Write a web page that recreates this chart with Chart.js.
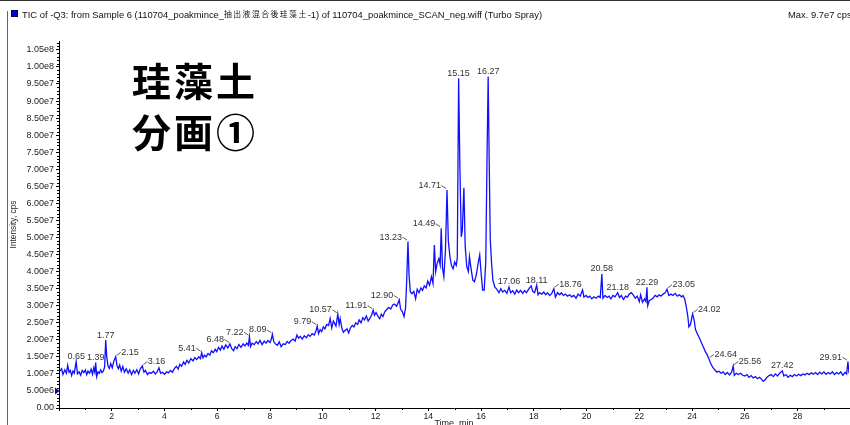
<!DOCTYPE html>
<html>
<head>
<meta charset="utf-8">
<script src="https://cdn.jsdelivr.net/npm/chart.js@4.4.1/dist/chart.umd.min.js"></script>
<style>
  html, body { margin: 0; padding: 0; background: #fff; width: 850px; height: 425px; overflow: hidden; }
  #wrap { position: absolute; left: 0; top: 0; width: 850px; height: 431px; }
  .rule { position: absolute; left: 0; top: 0; width: 850px; height: 1px; background: #333; }
  .frame { position: absolute; left: 7px; top: 11px; width: 1px; height: 414px; background: #666; }
  .hdr { position: absolute; top: 9px; font: 9.4px "Liberation Sans", Arial, sans-serif; color: #111; white-space: nowrap; line-height: 11px; }
  .hdr .cjk { font: 7.8px "Noto Sans CJK JP", sans-serif; letter-spacing: 1.5px; position: relative; top: -1px; }
  .swatch { position: absolute; left: 11px; top: 10px; width: 5px; height: 5px; background: #0000e0; border: 1px solid #000050; }
  .big { position: absolute; left: 132px; top: 54px; font: bold 39px "Noto Sans CJK JP", sans-serif; line-height: 51px; letter-spacing: 3px; color: #000; }
</style>
</head>
<body>
<div id="wrap"><canvas id="tic"></canvas></div>
<div class="rule"></div>
<div class="frame"></div>
<div class="swatch"></div>
<div class="hdr" style="left:22px">TIC of -Q3: from Sample 6 (110704_poakmince_<span class="cjk">抽出液混合後珪藻土</span>-1) of 110704_poakmince_SCAN_neg.wiff (Turbo Spray)</div>
<div class="hdr" style="left:788px">Max. 9.7e7 cps</div>
<div class="big">珪藻土<br>分画①</div>

<script>
// retention time (min)
const timeMin = [
  0.03, 0.10, 0.15, 0.22, 0.28, 0.33, 0.38, 0.43, 0.48, 0.53,
  0.58, 0.65, 0.70, 0.76, 0.82, 0.88, 0.94, 1.00, 1.05, 1.10,
  1.16, 1.22, 1.27, 1.32, 1.36, 1.39, 1.43, 1.48, 1.53, 1.58,
  1.63, 1.68, 1.73, 1.77, 1.81, 1.86, 1.91, 1.96, 2.02, 2.08,
  2.15, 2.20, 2.25, 2.30, 2.36, 2.42, 2.48, 2.55, 2.62, 2.68,
  2.75, 2.82, 2.88, 2.95, 3.02, 3.08, 3.16, 3.22, 3.28, 3.35,
  3.42, 3.50, 3.58, 3.65, 3.72, 3.79, 3.85, 3.92, 4.00, 4.08,
  4.15, 4.22, 4.30, 4.38, 4.45, 4.52, 4.58, 4.65, 4.72, 4.78,
  4.85, 4.92, 5.00, 5.08, 5.15, 5.22, 5.30, 5.36, 5.41, 5.46,
  5.52, 5.58, 5.65, 5.72, 5.78, 5.85, 5.92, 5.98, 6.05, 6.12,
  6.18, 6.25, 6.32, 6.40, 6.48, 6.55, 6.62, 6.68, 6.75, 6.82,
  6.90, 6.98, 7.05, 7.12, 7.18, 7.22, 7.26, 7.32, 7.40, 7.48,
  7.55, 7.62, 7.70, 7.78, 7.85, 7.92, 8.00, 8.05, 8.09, 8.14,
  8.20, 8.28, 8.35, 8.42, 8.50, 8.58, 8.65, 8.72, 8.80, 8.88,
  8.95, 9.02, 9.08, 9.15, 9.22, 9.30, 9.38, 9.45, 9.52, 9.60,
  9.68, 9.75, 9.79, 9.84, 9.90, 9.96, 10.02, 10.08, 10.15, 10.22,
  10.28, 10.34, 10.40, 10.45, 10.50, 10.57, 10.62, 10.66, 10.72, 10.78,
  10.85, 10.92, 10.98, 11.05, 11.12, 11.18, 11.25, 11.32, 11.38, 11.45,
  11.52, 11.58, 11.65, 11.72, 11.78, 11.85, 11.91, 11.96, 12.02, 12.10,
  12.16, 12.22, 12.28, 12.35, 12.42, 12.50, 12.58, 12.65, 12.72, 12.80,
  12.85, 12.90, 12.95, 13.02, 13.08, 13.14, 13.18, 13.23, 13.27, 13.32,
  13.38, 13.45, 13.52, 13.58, 13.65, 13.72, 13.78, 13.85, 13.92, 13.98,
  14.05, 14.12, 14.18, 14.23, 14.28, 14.33, 14.40, 14.45, 14.49, 14.54,
  14.59, 14.65, 14.71, 14.76, 14.82, 14.88, 14.94, 15.00, 15.06, 15.10,
  15.15, 15.20, 15.25, 15.29, 15.35, 15.40, 15.46, 15.52, 15.56, 15.63,
  15.69, 15.75, 15.82, 15.89, 15.95, 16.00, 16.06, 16.12, 16.18, 16.23,
  16.27, 16.31, 16.35, 16.40, 16.45, 16.52, 16.60, 16.68, 16.75, 16.82,
  16.90, 16.98, 17.06, 17.12, 17.20, 17.28, 17.35, 17.42, 17.50, 17.58,
  17.65, 17.72, 17.82, 17.90, 17.96, 18.03, 18.11, 18.16, 18.22, 18.30,
  18.38, 18.45, 18.52, 18.60, 18.68, 18.76, 18.82, 18.90, 18.98, 19.05,
  19.12, 19.20, 19.28, 19.36, 19.44, 19.52, 19.60, 19.68, 19.76, 19.85,
  19.90, 19.98, 20.05, 20.12, 20.20, 20.28, 20.36, 20.45, 20.52, 20.58,
  20.62, 20.70, 20.78, 20.85, 20.92, 21.00, 21.08, 21.18, 21.25, 21.32,
  21.40, 21.48, 21.55, 21.62, 21.70, 21.78, 21.85, 21.92, 22.00, 22.05,
  22.12, 22.20, 22.25, 22.29, 22.32, 22.38, 22.45, 22.52, 22.60, 22.68,
  22.75, 22.82, 22.90, 22.98, 23.05, 23.12, 23.20, 23.28, 23.36, 23.44,
  23.52, 23.60, 23.66, 23.72, 23.78, 23.84, 23.88, 23.94, 24.02, 24.08,
  24.13, 24.20, 24.28, 24.35, 24.42, 24.50, 24.58, 24.64, 24.70, 24.78,
  24.86, 24.94, 25.02, 25.10, 25.18, 25.26, 25.34, 25.42, 25.50, 25.56,
  25.60, 25.68, 25.76, 25.84, 25.92, 26.00, 26.08, 26.16, 26.24, 26.32,
  26.40, 26.48, 26.56, 26.64, 26.70, 26.76, 26.84, 26.92, 27.00, 27.08,
  27.16, 27.24, 27.32, 27.42, 27.48, 27.56, 27.64, 27.72, 27.80, 27.88,
  27.96, 28.04, 28.12, 28.20, 28.28, 28.36, 28.44, 28.52, 28.60, 28.68,
  28.76, 28.84, 28.92, 29.00, 29.08, 29.16, 29.24, 29.32, 29.40, 29.48,
  29.56, 29.64, 29.72, 29.80, 29.86, 29.91, 29.95
];

// TIC intensity, in units of 1e7 cps
const intensity = [
  1.08, 1.15, 0.98, 1.12, 1.02, 1.25, 1.05, 1.10, 0.95, 1.08,
  1.02, 1.36, 1.00, 1.06, 0.96, 1.10, 1.04, 1.12, 0.98, 1.08,
  1.02, 1.14, 0.99, 1.18, 1.05, 1.33, 0.92, 1.06, 1.02, 1.12,
  1.04, 1.08, 1.20, 1.99, 1.50, 1.22, 1.16, 1.30, 1.18, 1.38,
  1.50, 1.24, 1.15, 1.26, 1.08, 1.22, 1.05, 1.15, 1.02, 1.12,
  0.98, 1.10, 1.02, 1.12, 1.00, 1.15, 1.23, 1.05, 1.10, 0.98,
  1.04, 1.02, 1.08, 1.00, 1.06, 1.18, 1.02, 1.05, 0.99, 1.06,
  1.03, 1.10, 1.05, 1.16, 1.22, 1.14, 1.28, 1.22, 1.35, 1.28,
  1.40, 1.32, 1.45, 1.38, 1.48, 1.42, 1.50, 1.45, 1.62, 1.47,
  1.55, 1.50, 1.60, 1.55, 1.68, 1.62, 1.72, 1.65, 1.78, 1.70,
  1.82, 1.72, 1.85, 1.76, 1.88, 1.74, 1.68, 1.80, 1.74, 1.86,
  1.78, 1.88, 1.82, 1.90, 1.84, 2.09, 1.80, 1.90, 1.86, 1.95,
  1.88, 1.98, 1.86, 1.96, 1.90, 1.98, 1.92, 2.02, 2.16, 1.95,
  1.88, 1.84, 1.94, 1.80, 1.88, 1.86, 1.95, 1.90, 1.98, 2.02,
  1.96, 2.14, 2.05, 2.10, 2.02, 2.12, 2.06, 2.15, 2.10, 2.18,
  2.14, 2.28, 2.40, 2.18, 2.30, 2.24, 2.38, 2.32, 2.45, 2.42,
  2.62, 2.35, 2.55, 2.48, 2.40, 2.75, 2.45, 2.62, 2.35, 2.22,
  2.28, 2.32, 2.20, 2.35, 2.42, 2.38, 2.50, 2.45, 2.58, 2.50,
  2.65, 2.58, 2.70, 2.55, 2.62, 2.72, 2.87, 2.72, 2.80, 2.68,
  2.62, 2.75, 2.68, 2.82, 2.88, 2.95, 2.90, 3.02, 3.05, 2.98,
  3.08, 3.17, 2.90, 2.82, 2.68, 2.95, 3.70, 4.88, 3.90, 3.40,
  3.35, 3.42, 3.20, 3.48, 3.38, 3.52, 3.45, 3.58, 3.52, 3.72,
  3.60, 3.85, 3.65, 4.78, 4.00, 4.22, 4.38, 4.20, 5.27, 4.10,
  3.85, 4.60, 6.39, 4.90, 4.44, 4.18, 4.08, 4.28, 4.18, 4.40,
  9.67, 7.00, 5.02, 5.20, 6.46, 4.73, 4.14, 4.00, 4.44, 4.04,
  3.75, 3.70, 3.90, 4.25, 4.49, 3.98, 3.46, 3.46, 4.30, 7.50,
  9.72, 7.20, 4.93, 4.24, 3.75, 3.55, 3.48, 3.38, 3.50, 3.40,
  3.45, 3.36, 3.55, 3.38, 3.44, 3.34, 3.46, 3.38, 3.45, 3.36,
  3.44, 3.38, 3.50, 3.58, 3.42, 3.38, 3.60, 3.32, 3.38, 3.34,
  3.40, 3.32, 3.38, 3.30, 3.36, 3.50, 3.25, 3.38, 3.32, 3.38,
  3.30, 3.34, 3.28, 3.32, 3.26, 3.30, 3.22, 3.34, 3.28, 3.46,
  3.25, 3.30, 3.24, 3.28, 3.20, 3.26, 3.22, 3.28, 3.24, 3.93,
  3.22, 3.30, 3.24, 3.28, 3.20, 3.30, 3.26, 3.38, 3.24, 3.30,
  3.18, 3.28, 3.25, 3.34, 3.38, 3.30, 3.22, 3.28, 3.12, 3.32,
  3.10, 3.20, 3.12, 3.54, 3.00, 3.15, 3.18, 3.22, 3.30, 3.26,
  3.32, 3.28, 3.34, 3.38, 3.48, 3.30, 3.34, 3.30, 3.36, 3.28,
  3.32, 3.26, 3.30, 3.20, 2.97, 2.68, 2.38, 2.45, 2.76, 2.58,
  2.30, 2.18, 2.05, 1.92, 1.80, 1.66, 1.55, 1.44, 1.32, 1.20,
  1.12, 1.05, 1.08, 1.02, 1.06, 0.98, 1.04, 0.97, 1.05, 1.23,
  0.96, 1.02, 0.98, 1.02, 0.96, 0.94, 0.98, 0.90, 0.95, 0.88,
  0.92, 0.86, 0.90, 0.84, 0.78, 0.82, 0.90, 0.95, 0.98, 0.92,
  1.00, 0.94, 1.02, 1.09, 0.94, 0.98, 0.90, 0.96, 0.92, 0.98,
  0.94, 0.99, 0.95, 1.00, 0.97, 1.02, 0.98, 1.03, 0.99, 1.04,
  0.98, 1.05, 1.00, 1.06, 0.99, 1.04, 1.00, 1.06, 0.98, 1.04,
  1.00, 1.06, 0.96, 1.05, 1.00, 1.36, 1.02
];

// labelled peaks (retention times, min)
const peakTimes = [
  0.65, 1.39, 1.77, 2.15, 3.16, 5.41, 6.48, 7.22, 8.09, 9.79,
  10.57, 11.91, 12.90, 13.23, 14.49, 14.71, 15.15, 16.27, 17.06, 18.11,
  18.76, 20.58, 21.18, 22.29, 23.05, 24.02, 24.64, 25.56, 27.42, 29.91
];

// threshold marker on the intensity axis (1e7 cps)
const thresholdLevel = 0.5;

// which side each peak label sits on (others are centred above)
const labelLeft = [5.41, 6.48, 7.22, 8.09, 9.79, 10.57, 11.91, 12.90, 13.23, 14.49, 14.71, 29.91];
const labelRight = [2.15, 3.16, 18.76, 23.05, 24.02, 24.64, 25.56];

const FONT = '"Liberation Sans", Arial, sans-serif';
Chart.defaults.font.family = FONT;

function nearestIndex(t) {
  let best = 0;
  timeMin.forEach((v, i) => {
    if (Math.abs(v - t) < Math.abs(timeMin[best] - t)) best = i;
  });
  return best;
}

// small minor ticks + threshold arrow
const axisExtras = {
  id: 'axisExtras',
  afterDraw(chart) {
    const { ctx, chartArea: a, scales: { x, y } } = chart;
    ctx.save();
    ctx.strokeStyle = '#000';
    ctx.lineWidth = 1;
    ctx.beginPath();
    for (let i = 1; i / 10 <= y.max; i++) {
      if (i % 5 === 0) continue;
      const py = Math.round(y.getPixelForValue(i / 10)) + 0.5;
      ctx.moveTo(a.left - 2, py);
      ctx.lineTo(a.left, py);
    }
    for (let i = 1; i < x.max; i += 2) {
      const px = Math.round(x.getPixelForValue(i)) + 0.5;
      ctx.moveTo(px, a.bottom);
      ctx.lineTo(px, a.bottom + 2);
    }
    ctx.stroke();

    const ty = y.getPixelForValue(thresholdLevel);
    ctx.fillStyle = '#0a0a9a';
    ctx.beginPath();
    ctx.moveTo(a.left - 4, ty - 3.5);
    ctx.lineTo(a.left - 4, ty + 3.5);
    ctx.lineTo(a.left + 0.5, ty);
    ctx.closePath();
    ctx.fill();
    ctx.restore();
  }
};

// retention time labels over the peaks
const peakLabels = {
  id: 'peakLabels',
  afterDatasetsDraw(chart) {
    const { ctx, scales: { x, y } } = chart;
    ctx.save();
    ctx.font = '9px ' + FONT;
    ctx.fillStyle = '#333';
    ctx.strokeStyle = '#333';
    ctx.lineWidth = 0.8;
    ctx.textBaseline = 'middle';
    peakTimes.forEach(t => {
      const k = nearestIndex(t);
      const px = x.getPixelForValue(timeMin[k]);
      const py = y.getPixelForValue(intensity[k]);
      const txt = t.toFixed(2);
      if (labelLeft.includes(t)) {
        ctx.textAlign = 'right';
        ctx.fillText(txt, px - 6, py - 4.5);
        ctx.beginPath();
        ctx.moveTo(px - 5.5, py - 4.5);
        ctx.lineTo(px - 1, py - 1.5);
        ctx.stroke();
      } else if (labelRight.includes(t)) {
        ctx.textAlign = 'left';
        ctx.fillText(txt, px + 5.5, py - 4.5);
        ctx.beginPath();
        ctx.moveTo(px + 1, py - 1.5);
        ctx.lineTo(px + 5, py - 4.5);
        ctx.stroke();
      } else {
        ctx.textAlign = 'center';
        ctx.fillText(txt, px, py - 5);
      }
    });
    ctx.restore();
  }
};

new Chart(document.getElementById('tic'), {
  type: 'line',
  data: {
    datasets: [{
      data: timeMin.map((t, i) => ({ x: t, y: intensity[i] })),
      borderColor: '#1010ff',
      borderWidth: 1.3,
      pointRadius: 0,
      tension: 0,
      fill: false
    }]
  },
  options: {
    responsive: true,
    maintainAspectRatio: false,
    animation: false,
    layout: { padding: { top: 41, right: 1, left: 0, bottom: 0 } },
    plugins: { legend: { display: false }, tooltip: { enabled: false } },
    scales: {
      x: {
        type: 'linear',
        min: 0,
        max: 29.95,
        border: { color: '#000', width: 1 },
        grid: { drawOnChartArea: false, drawTicks: true, tickLength: 3, tickColor: '#000' },
        ticks: {
          stepSize: 2,
          includeBounds: false,
          autoSkip: false,
          maxRotation: 0,
          padding: 0,
          color: '#222',
          font: { size: 8.7 },
          callback: v => (v === 0 ? '' : String(v))
        },
        title: { display: true, text: 'Time, min', color: '#222', font: { size: 9 }, padding: { top: 0, bottom: 2 } },
        afterFit(s) { s.height = 23; }
      },
      y: {
        min: 0,
        max: 10.76,
        border: { color: '#000', width: 1 },
        grid: { drawOnChartArea: false, drawTicks: true, tickLength: 3, tickColor: '#000' },
        ticks: {
          stepSize: 0.5,
          includeBounds: false,
          autoSkip: false,
          padding: 2,
          color: '#222',
          font: { size: 9 },
          callback: v => {
            if (Math.abs(v * 2 - Math.round(v * 2)) > 1e-6) return '';
            if (Math.abs(v) < 1e-9) return '0.00';
            return (v * 1e7).toExponential(2).replace('+', '');
          }
        },
        title: { display: true, text: 'Intensity, cps', color: '#222', font: { size: 8.3 }, padding: { top: 9, bottom: 0 } },
        afterFit(s) { s.width = 59; }
      }
    }
  },
  plugins: [axisExtras, peakLabels]
});
</script>
</body>
</html>
